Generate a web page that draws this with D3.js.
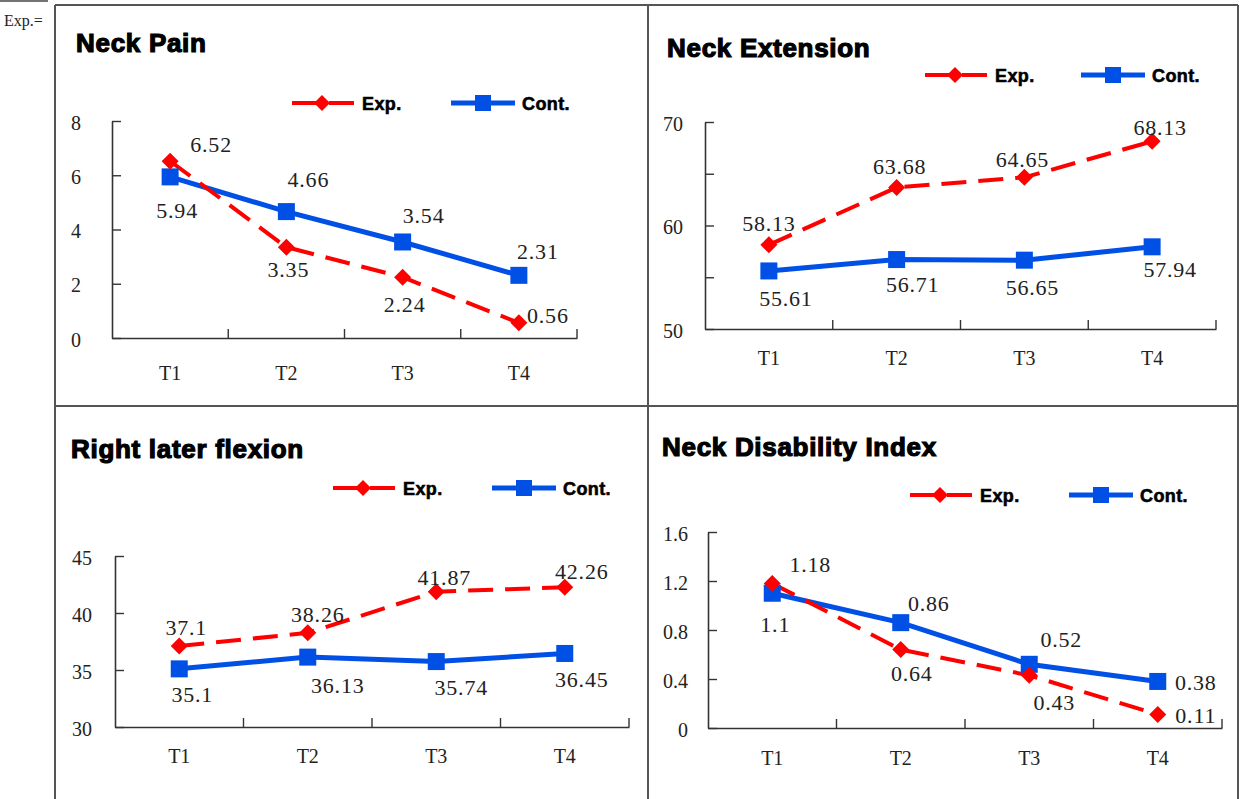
<!DOCTYPE html>
<html>
<head>
<meta charset="utf-8">
<script src="https://cdn.jsdelivr.net/npm/d3@7"></script>
<style>
  html, body { margin: 0; padding: 0; background: #fff; }
  svg { display: block; }
</style>
</head>
<body>
<svg id="chart" width="1242" height="799"></svg>
<script>
// ---------- data ----------
const categories = ["T1", "T2", "T3", "T4"];
const seriesNames = ["Exp.", "Cont."];

const painExp = [6.52, 3.35, 2.24, 0.56];
const painCont = [5.94, 4.66, 3.54, 2.31];
const painTicks = [0, 2, 4, 6, 8];

const extExp = [58.13, 63.68, 64.65, 68.13];
const extCont = [55.61, 56.71, 56.65, 57.94];
const extTicks = [50, 55, 60, 65, 70];
const extTickLabels = ["50", "", "60", "", "70"];

const flexExp = [37.1, 38.26, 41.87, 42.26];
const flexCont = [35.1, 36.13, 35.74, 36.45];
const flexTicks = [30, 35, 40, 45];

const ndiExp = [1.18, 0.64, 0.43, 0.11];
const ndiCont = [1.1, 0.86, 0.52, 0.38];
const ndiTicks = [0, 0.4, 0.8, 1.2, 1.6];
const ndiTickLabels = ["0", "0.4", "0.8", "1.2", "1.6"];

const titles = ["Neck Pain", "Neck Extension", "Right later flexion", "Neck Disability Index"];

// ---------- layout / style (positions kept apart from data) ----------
const RED = "#ff0000", BLUE = "#0050e6";
const panels = [
  { title: titles[0], exp: painExp, cont: painCont, ticks: painTicks, tickLabels: painTicks.map(String),
    domain: [0, 8], x0: 112, x1: 577, yTop: 121, yBot: 338, titleX: 76, titleY: 52,
    legY: 103, legRed: 292, legBlue: 451, yLabOff: 31, xLabOff: 42,
    expLab: [[41, -9], [2, 30], [2, 35], [29, 0]],
    contLab: [[7, 41], [22, -25], [21, -19], [19, -16]] },
  { title: titles[1], exp: extExp, cont: extCont, ticks: extTicks, tickLabels: extTickLabels,
    domain: [50, 70], x0: 705, x1: 1216, yTop: 122, yBot: 329, titleX: 667, titleY: 57,
    legY: 75, legRed: 925, legBlue: 1081, yLabOff: 22, xLabOff: 36,
    expLab: [[0, -14], [3, -13], [-2, -10], [8, -6]],
    contLab: [[17, 35], [16, 32], [8, 35], [18, 30]] },
  { title: titles[2], exp: flexExp, cont: flexCont, ticks: flexTicks, tickLabels: flexTicks.map(String),
    domain: [30, 45], x0: 115, x1: 629, yTop: 556, yBot: 727, titleX: 71, titleY: 458,
    legY: 488, legRed: 333, legBlue: 492, yLabOff: 23, xLabOff: 36,
    expLab: [[7, -11], [10, -11], [8, -7], [17, -8]],
    contLab: [[13, 33], [30, 36], [25, 33], [17, 34]] },
  { title: titles[3], exp: ndiExp, cont: ndiCont, ticks: ndiTicks, tickLabels: ndiTickLabels,
    domain: [0, 1.6], x0: 708, x1: 1222, yTop: 532, yBot: 728, titleX: 662, titleY: 456,
    legY: 495, legRed: 910, legBlue: 1069, yLabOff: 20, xLabOff: 37,
    expLab: [[38, -11], [11, 31], [25, 35], [38, 8]],
    contLab: [[3, 39], [28, -12], [32, -17], [38, 9]] }
];

const svg = d3.select("#chart");
const SERIF = "'Liberation Serif', 'DejaVu Serif', serif";
const SANS = "'Liberation Sans', Arial, sans-serif";

// top-left stray text
svg.append("line").attr("x1", 0).attr("x2", 48).attr("y1", 1).attr("y2", 1)
  .attr("stroke", "#444").attr("stroke-width", 1.5);
svg.append("text").attr("x", 4).attr("y", 26).attr("font-family", SERIF)
  .attr("font-size", 16).attr("fill", "#222").text("Exp.=");

// frame grid
const frame = svg.append("g").attr("stroke", "#555").attr("stroke-width", 2).attr("fill", "none");
frame.append("line").attr("x1", 55).attr("x2", 1238).attr("y1", 5).attr("y2", 5);
frame.append("line").attr("x1", 55).attr("x2", 1238).attr("y1", 406).attr("y2", 406);
[55, 648, 1238].forEach(x => frame.append("line").attr("x1", x).attr("x2", x).attr("y1", 5).attr("y2", 799));

function diamondPath(cx, cy, r) {
  return `M${cx},${cy - r}L${cx + r},${cy}L${cx},${cy + r}L${cx - r},${cy}Z`;
}

panels.forEach(p => {
  const g = svg.append("g");
  const x = d3.scaleBand().domain(categories).range([p.x0, p.x1]);
  const y = d3.scaleLinear().domain(p.domain).range([p.yBot, p.yTop]);
  const cx = c => x(c) + x.bandwidth() / 2;

  // title
  g.append("text").attr("x", p.titleX).attr("y", p.titleY)
    .attr("font-family", SANS).attr("font-weight", "bold").attr("font-size", 26)
    .attr("stroke", "#000").attr("stroke-width", 1.2).attr("letter-spacing", 0.7)
    .attr("fill", "#000").text(p.title);

  // y axis
  const yAxis = d3.axisLeft(y).tickValues(p.ticks)
    .tickFormat((d, i) => p.tickLabels[i])
    .tickSizeInner(-9).tickSizeOuter(0).tickPadding(p.yLabOff);
  const ya = g.append("g").attr("transform", `translate(${p.x0},0)`).call(yAxis);
  ya.select(".domain").attr("stroke", "#333").attr("stroke-width", 1.6);
  ya.selectAll(".tick line").attr("stroke", "#333").attr("stroke-width", 1.4);
  ya.selectAll(".tick text").attr("font-family", SERIF).attr("font-size", 20)
    .attr("fill", "#222").attr("dy", "0.4em");

  // x axis (labels at centres, tick marks at boundaries)
  const xAxis = d3.axisBottom(x).tickSize(0).tickPadding(p.xLabOff);
  const xa = g.append("g").attr("transform", `translate(0,${p.yBot})`).call(xAxis);
  xa.select(".domain").attr("stroke", "#333").attr("stroke-width", 1.6);
  xa.selectAll(".tick text").attr("font-family", SERIF).attr("font-size", 20)
    .attr("fill", "#222").attr("dy", "0");
  categories.forEach(c => {
    const bx = x(c) + x.step();
    g.append("line").attr("x1", bx).attr("x2", bx).attr("y1", p.yBot).attr("y2", p.yBot - 9)
      .attr("stroke", "#333").attr("stroke-width", 1.4);
  });

  // lines
  const line = d3.line().x((d, i) => cx(categories[i])).y(d => y(d));
  g.append("path").datum(p.cont).attr("d", line).attr("fill", "none")
    .attr("stroke", BLUE).attr("stroke-width", 5);
  g.append("path").datum(p.exp).attr("d", line).attr("fill", "none")
    .attr("stroke", RED).attr("stroke-width", 4).attr("stroke-dasharray", "25,12");

  // markers
  p.cont.forEach((v, i) => {
    g.append("rect").attr("x", cx(categories[i]) - 8.5).attr("y", y(v) - 8.5)
      .attr("width", 17).attr("height", 17).attr("fill", BLUE);
  });
  p.exp.forEach((v, i) => {
    g.append("path").attr("d", diamondPath(cx(categories[i]), y(v), 8.5)).attr("fill", RED);
  });

  // data labels
  const lab = (v, i, off) => g.append("text")
    .attr("x", cx(categories[i]) + off[0]).attr("y", y(v) + off[1])
    .attr("text-anchor", "middle").attr("font-family", SERIF).attr("font-size", 22)
    .attr("letter-spacing", 0.8).attr("fill", "#222").text(String(v));
  p.exp.forEach((v, i) => lab(v, i, p.expLab[i]));
  p.cont.forEach((v, i) => lab(v, i, p.contLab[i]));

  // legend
  const lg = g.append("g");
  lg.append("line").attr("x1", p.legRed).attr("x2", p.legRed + 63)
    .attr("y1", p.legY).attr("y2", p.legY).attr("stroke", RED).attr("stroke-width", 4)
    .attr("stroke-dasharray", "25,12");
  lg.append("path").attr("d", diamondPath(p.legRed + 30, p.legY, 8)).attr("fill", RED);
  lg.append("text").attr("x", p.legRed + 70).attr("y", p.legY + 6.5)
    .attr("font-family", SANS).attr("font-weight", "bold").attr("font-size", 18)
    .attr("letter-spacing", 0.4)
    .attr("stroke", "#000").attr("stroke-width", 0.6).text(seriesNames[0]);
  lg.append("line").attr("x1", p.legBlue).attr("x2", p.legBlue + 64)
    .attr("y1", p.legY).attr("y2", p.legY).attr("stroke", BLUE).attr("stroke-width", 5);
  lg.append("rect").attr("x", p.legBlue + 32 - 8).attr("y", p.legY - 8)
    .attr("width", 16).attr("height", 16).attr("fill", BLUE);
  lg.append("text").attr("x", p.legBlue + 71).attr("y", p.legY + 6.5)
    .attr("font-family", SANS).attr("font-weight", "bold").attr("font-size", 18)
    .attr("letter-spacing", 0.4)
    .attr("stroke", "#000").attr("stroke-width", 0.6).text(seriesNames[1]);
});
</script>
</body>
</html>
